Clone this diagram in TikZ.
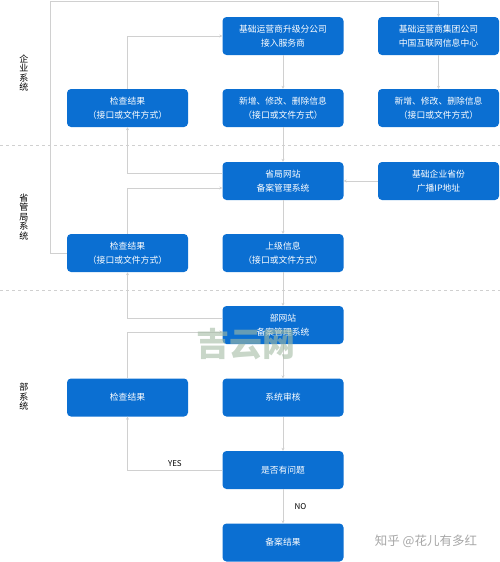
\documentclass[tikz,border=0pt]{standalone}
\usepackage{fontspec}
\setmainfont{Noto Sans CJK SC}
\usetikzlibrary{arrows.meta, positioning}
\definecolor{boxblue}{HTML}{0B6FD2}
\definecolor{linegray}{HTML}{D0D0D0}
\definecolor{markgreen}{HTML}{A3BBA3}

\begin{document}
\begin{tikzpicture}[x=1pt, y=-1pt,
    box/.style={fill=boxblue, rounded corners=4pt, minimum width=121pt, minimum height=38pt,
      inner sep=0pt, text=white, align=center, font=\fontsize{8.8}{13.5}\selectfont},
    conn/.style={draw=linegray, line width=0.7pt, -{Stealth[length=3pt,width=3pt]}},
    sep/.style={draw=linegray, dashed, line width=0.7pt},
    side/.style={align=center, font=\fontsize{9}{9.5}\selectfont}]
    \useasboundingbox (0,0) rectangle (500,562);

    % Level separators
    \draw[sep] (0,145) -- (500,145);
    \draw[sep] (0,290) -- (500,290);

    % Side labels
    \node[side] (ent) at (24,73) {企\\业\\系\\统};
    \node[side] (prov) at (24,217) {省\\管\\局\\系\\统};
    \node[side] (mini) at (24,397) {部\\系\\统};

    % Enterprise system
    \node[box] (m1) at (283,36) {基础运营商升级分公司\\接入服务商};
    \node[box] (r1) at (438.5,36) {基础运营商集团公司\\中国互联网信息中心};
    \node[box] (l2) at (127.5,108) {检查结果\\（接口或文件方式）};
    \node[box] (m2) at (283,108) {新增、修改、删除信息\\（接口或文件方式）};
    \node[box] (r2) at (438.5,108) {新增、修改、删除信息\\（接口或文件方式）};

    % Provincial system
    \node[box] (m3) at (283,181) {省局网站\\备案管理系统};
    \node[box] (r3) at (438.5,181) {基础企业省份\\广播IP地址};
    \node[box] (l4) at (127.5,253) {检查结果\\（接口或文件方式）};
    \node[box] (m4) at (283,253) {上级信息\\（接口或文件方式）};

    % Ministry system
    \node[box] (m5) at (283,325) {部网站\\备案管理系统};
    \node[box] (l6) at (127.5,397.5) {检查结果};
    \node[box] (m6) at (283,397.5) {系统审核};
    \node[box] (m7) at (283,470) {是否有问题};
    \node[box] (m8) at (283,542.5) {备案结果};

    % Main flow
    \draw[conn] (m1) -- (m2);
    \draw[conn] (r1) -- (r2);
    \draw[conn] (m2) -- (m3);
    \draw[conn] (r3) -- (m3);
    \draw[conn] (m3) -- (m4);
    \draw[conn] (m4) -- (m5);
    \draw[conn] (m5) -- (m6);
    \draw[conn] (m6) -- (m7);
    \draw[conn] (m7) -- node[right=8pt, font=\fontsize{8}{9}\selectfont] (no) {NO} (m8);

    % Feedback loops
    \coordinate (corner) at (50,1);
    \draw[conn] (l2.north) |- (m1.west);
    \draw[conn] ([yshift=8pt]m3.west) -| (l2.south);
    \draw[conn] (l4.north) |- ([yshift=-7pt]m3.west);
    \draw[conn] (l4.west) -| (corner) -| (r1.north);
    \draw[conn] ([yshift=7pt]m5.west) -| (l4.south);
    \draw[conn] (l6.north) |- ([yshift=-7pt]m5.west);
    \draw[conn] (m7.west) -| node[pos=0.25, above, font=\fontsize{8}{9}\selectfont] (yes) {YES} (l6.south);

    % Watermarks
    \node[text=markgreen, opacity=0.6, font=\fontsize{33}{33}\bfseries] (mark) at (246,344) {吉云网};
    \node[text=black!35, font=\fontsize{12.5}{14}\selectfont] (zhihu) at (426,541) {知乎 @花儿有多红};
\end{tikzpicture}
\end{document}
